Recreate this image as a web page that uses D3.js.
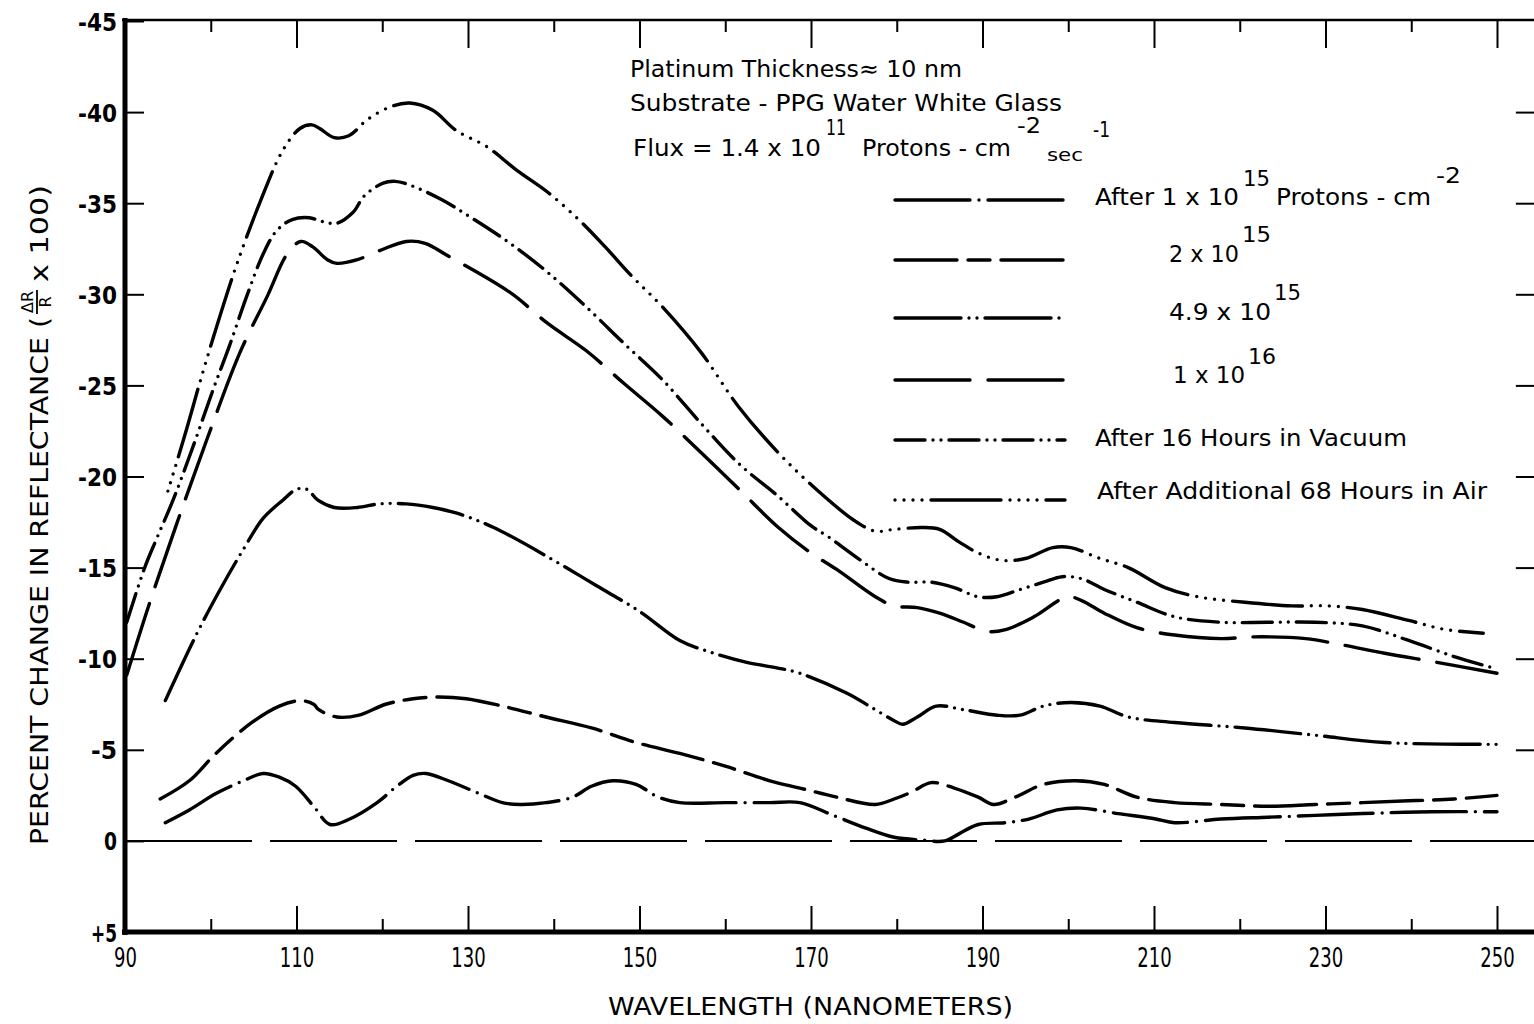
<!DOCTYPE html>
<html><head><meta charset="utf-8">
<script src="https://cdn.jsdelivr.net/npm/d3@7"></script>
<style>
body{margin:0;background:#fff;}
svg{display:block;background:#fff;}
</style></head>
<body>
<svg id="chart" width="1534" height="1024"></svg>
<script>
// ---------------- DATA ----------------
// After 1 x 10^15 protons (dash-dot)
const p1e15Nm  = [94.7,97.5,100.6,103.8,106.1,108.0,109.9,112.0,113.9,116.2,119.4,121.7,123.6,125.1,127.7,131.3,134.0,136.1,139.1,142.2,144.4,146.9,149.6,152.2,154.7,160.0,165.2,168.7,172.6,176.4,179.7,182.9,185.6,187.3,189.5,192.7,195.4,198.7,201.5,205.8,210.2,212.4,217.8,223.3,228.8,234.3,242.4,250];
const p1e15Val = [-1.0,-1.7,-2.6,-3.3,-3.7,-3.5,-3.0,-1.9,-0.9,-1.2,-2.1,-3.0,-3.6,-3.7,-3.3,-2.6,-2.1,-2.0,-2.1,-2.4,-3.0,-3.3,-3.1,-2.4,-2.1,-2.1,-2.1,-2.1,-1.4,-0.7,-0.2,-0.05,0,-0.4,-0.9,-1.0,-1.2,-1.7,-1.8,-1.5,-1.2,-1.0,-1.2,-1.3,-1.4,-1.5,-1.6,-1.6];
// 2 x 10^15 (long-short dash)
const p2e15Nm  = [94.1,97.5,100.6,104.8,108.0,110.5,112.0,112.6,114.7,117.3,120.4,123.6,126.6,129.8,134.0,139.1,144.4,149.6,154.7,160.0,165.2,168.7,173.0,177.5,179.7,181.8,184.0,186.7,189.5,191.3,193.8,197.1,200.9,204.2,208.0,212.4,217.8,223.3,228.8,234.3,239.7,245,250];
const p2e15Val = [-2.3,-3.3,-4.8,-6.5,-7.4,-7.7,-7.5,-7.2,-6.8,-6.9,-7.5,-7.8,-7.9,-7.8,-7.4,-6.8,-6.2,-5.4,-4.8,-4.1,-3.3,-2.9,-2.4,-2.0,-2.3,-2.7,-3.2,-2.9,-2.4,-2.0,-2.4,-3.1,-3.3,-3.1,-2.4,-2.1,-2.0,-1.9,-2.0,-2.1,-2.2,-2.3,-2.5];
// 4.9 x 10^15 (dash-dot-dot)
const p49e15Nm  = [94.7,98.4,101.1,103.8,106.1,108.4,110.0,111.2,112.5,114.4,117.1,119.7,122.8,125.9,128.6,133.0,140,145,150,154.7,158,162.5,166,168.7,174.2,177.5,179.7,180.7,182.4,184.6,187.8,191.7,194.4,197.1,200.3,203.7,207.0,212.4,220.6,228.8,236.9,250];
const p49e15Val = [-7.7,-11.4,-13.8,-16.0,-17.7,-18.7,-19.3,-19.3,-18.7,-18.3,-18.3,-18.5,-18.5,-18.3,-18.0,-17.2,-15.4,-14.0,-12.6,-11.0,-10.4,-9.8,-9.5,-9.2,-8.1,-7.2,-6.6,-6.4,-6.8,-7.4,-7.2,-6.9,-6.9,-7.4,-7.6,-7.4,-6.8,-6.5,-6.2,-5.8,-5.4,-5.3];
// 1 x 10^16 (long dash)
const p1e16Nm  = [90.2,92.9,96.1,99.6,103.4,106.6,108.9,110.5,111.9,113.6,114.7,117.1,119.7,122.8,125.0,127.7,134.9,139.3,143.8,148.2,152.7,157.2,161.6,166.2,170,173.0,177.5,179.7,182.4,185.0,187.8,190.5,192.7,196.0,199.9,201.5,204.2,208.0,212.4,217.8,221.7,227.7,231.5,236.9,243.0,250];
const p1e16Val = [-9.1,-13.1,-17.5,-22.1,-26.8,-29.9,-32.2,-32.9,-32.6,-31.9,-31.7,-31.9,-32.4,-32.9,-32.8,-32.1,-30.1,-28.4,-26.9,-25.1,-23.3,-21.3,-19.3,-17.2,-15.8,-14.9,-13.4,-12.9,-12.8,-12.5,-12.0,-11.5,-11.6,-12.3,-13.4,-13.2,-12.5,-11.7,-11.3,-11.1,-11.2,-11.1,-10.8,-10.3,-9.8,-9.2];
// After 16 hours in vacuum
const vacNm  = [90.2,92.3,93.7,95.6,97.9,100.3,102.2,104.2,106.1,107.7,109.5,111.5,113,114.7,116.6,117.9,120.1,121.5,123.2,126.9,130.4,134.9,139.3,143.8,148.2,152.7,157.2,161.6,166.2,170,172.0,175.8,179.1,181.3,184.0,186.7,189.5,191.7,194.4,197.1,199.3,201.5,204.2,208.0,212.4,217.8,223.3,228.8,234.3,239.7,245.1,249.5];
const vacVal = [-12.0,-15.0,-16.6,-18.7,-21.6,-24.8,-27.2,-29.9,-32.2,-33.5,-34.1,-34.2,-34.0,-33.9,-34.5,-35.4,-36.1,-36.2,-36.0,-35.2,-34.2,-32.8,-31.2,-29.3,-27.3,-25.3,-22.9,-20.7,-18.9,-17.3,-16.7,-15.4,-14.4,-14.2,-14.2,-13.9,-13.4,-13.4,-13.8,-14.2,-14.5,-14.4,-13.8,-13.1,-12.3,-12.0,-12.0,-12.0,-11.8,-11.0,-10.1,-9.5];
// After additional 68 hours in air
const airNm  = [95,97,99.0,101,103.0,105.7,108.4,110.4,111.8,112.7,114.4,116.1,118.3,121.0,123.2,125.9,128.6,132.2,135.7,139.3,142.9,146.0,149.1,152.7,157.2,161.6,166.2,170.6,175.0,177.5,179.7,182.9,185.0,187.3,189.5,192.2,195.0,198.2,200.3,203.7,207.0,211.3,215.1,220.6,226.1,230.4,234.3,239.7,244.0,248.4];
const airVal = [-19.2,-22.3,-25.6,-28.7,-31.6,-35.0,-37.9,-39.1,-39.3,-39.1,-38.6,-38.7,-39.6,-40.3,-40.5,-40.1,-39.0,-38.1,-36.8,-35.6,-34.1,-32.6,-31.0,-29.3,-26.8,-23.8,-21.3,-19.3,-17.6,-17.0,-17.1,-17.2,-17.1,-16.4,-15.8,-15.4,-15.5,-16.1,-16.1,-15.5,-15.0,-13.9,-13.4,-13.1,-12.9,-12.9,-12.7,-12.1,-11.6,-11.4];

const baselineNm  = [90, 255];
const baselineVal = [0, 0];

const yTickVals   = [-45,-40,-35,-30,-25,-20,-15,-10,-5,0,5];
const xMajorTicks = [90,110,130,150,170,190,210,230,250];
const xMinorTicks = [100,120,140,160,180,200,220,240];
const rightTicks  = [-40,-35,-30,-25,-20,-15,-10,-5];

// ---------------- SETUP ----------------
const svg = d3.select('#chart');
const FONT = "'DejaVu Sans', sans-serif";
const x = d3.scaleLinear().domain([90, 250]).range([125, 1497]);
const y = d3.scaleLinear().domain([-45, 5]).range([21, 932]);
const X_END = x(255);

// frame
svg.append('line').attr('x1', 122).attr('x2', X_END).attr('y1', 20).attr('y2', 20)
  .attr('stroke', '#000').attr('stroke-width', 2.5);
svg.append('line').attr('x1', 125).attr('x2', 125).attr('y1', 18).attr('y2', 935)
  .attr('stroke', '#000').attr('stroke-width', 5);
svg.append('line').attr('x1', 122).attr('x2', X_END).attr('y1', 932).attr('y2', 932)
  .attr('stroke', '#000').attr('stroke-width', 5);

function styleAxis(g) {
  g.select('.domain').remove();
  g.selectAll('.tick line').attr('stroke', '#000').attr('stroke-width', 2);
}

// left axis
const gl = svg.append('g').attr('transform', `translate(${x(90)},0)`)
  .call(d3.axisLeft(y).tickValues(yTickVals).tickSize(-19).tickPadding(8)
    .tickFormat(d => d > 0 ? '+' + d : String(d)));
styleAxis(gl);
gl.selectAll('text').attr('font-family', FONT).attr('font-size', 25).attr('font-weight', 'bold')
  .attr('fill', '#000').attr('dy', '0.36em')
  .attr('textLength', function(d){ const s = d > 0 ? '+' + d : String(d); return s.length * 13; })
  .attr('lengthAdjust', 'spacingAndGlyphs');

// bottom axis major + minor
const gb = svg.append('g').attr('transform', `translate(0,${y(5)})`)
  .call(d3.axisBottom(x).tickValues(xMajorTicks).tickSize(-26).tickPadding(16).tickFormat(d => String(d)));
styleAxis(gb);
gb.selectAll('text').attr('font-family', FONT).attr('font-size', 27).attr('fill', '#000')
  .attr('textLength', d => String(d).length * 11.5).attr('lengthAdjust', 'spacingAndGlyphs');
const gbm = svg.append('g').attr('transform', `translate(0,${y(5)})`)
  .call(d3.axisBottom(x).tickValues(xMinorTicks).tickSize(-13).tickFormat(''));
styleAxis(gbm);

// top axis
const gt = svg.append('g').attr('transform', 'translate(0,20)')
  .call(d3.axisTop(x).tickValues(xMajorTicks.slice(1)).tickSize(-28).tickFormat(''));
styleAxis(gt);
const gtm = svg.append('g').attr('transform', 'translate(0,20)')
  .call(d3.axisTop(x).tickValues(xMinorTicks).tickSize(-12).tickFormat(''));
styleAxis(gtm);

// right axis (axis line itself lies just outside the picture)
const gr = svg.append('g').attr('transform', `translate(${X_END},0)`)
  .call(d3.axisRight(y).tickValues(rightTicks).tickSize(-24).tickFormat(''));
styleAxis(gr);

// ---------------- SERIES ----------------
const series = [
  {nm: p1e15Nm,  val: p1e15Val,  dash: '75 9 0 9'},
  {nm: p2e15Nm,  val: p2e15Val,  dash: '62 11 22 11'},
  {nm: p49e15Nm, val: p49e15Val, dash: '66 8 0 8 0 8'},
  {nm: p1e16Nm,  val: p1e16Val,  dash: '75 18'},
  {nm: vacNm,    val: vacVal,    dash: '30 8 0 8 0 8'},
  {nm: airNm,    val: airVal,    dash: '0 9 0 9 0 9 0 9 70 9'}
];
const line = d3.line().x(d => x(d[0])).y(d => y(d[1])).curve(d3.curveCatmullRom.alpha(0.5));

// zero baseline (long dashes)
svg.append('path')
  .attr('d', d3.line().x(d => x(d[0])).y(d => y(d[1]))(baselineNm.map((n, i) => [n, baselineVal[i]])))
  .attr('fill', 'none').attr('stroke', '#000').attr('stroke-width', 2)
  .attr('stroke-dasharray', '127 18');

series.forEach(s => {
  const pts = s.nm.map((n, i) => [n, s.val[i]]);
  svg.append('path').attr('d', line(pts))
    .attr('fill', 'none').attr('stroke', '#000').attr('stroke-width', 3.4)
    .attr('stroke-linecap', 'round').attr('stroke-linejoin', 'round')
    .attr('stroke-dasharray', s.dash);
});

// ---------------- TEXT ----------------
function piece(t, px, py, len, size) {
  const el = svg.append('text').attr('x', px).attr('y', py).text(t)
    .attr('font-family', FONT).attr('font-size', size || 23).attr('fill', '#000');
  if (len) el.attr('textLength', len).attr('lengthAdjust', 'spacingAndGlyphs');
  return el;
}

piece('Platinum Thickness\u2248 10 nm', 630, 77, 332);
piece('Substrate - PPG Water White Glass', 630, 111, 432);
piece('Flux = 1.4 x 10', 633, 156, 188);
piece('11', 826, 135, 20, 22);
piece('Protons - cm', 862, 156, 149);
piece('-2', 1017, 133, 24, 21);
piece('sec', 1047, 161, 36, 18);
piece('-1', 1093, 137, 17, 21);

// legend
const legendY = [200, 260, 318, 380, 440, 500];
series.forEach((s, i) => {
  svg.append('line').attr('x1', 895).attr('x2', 1065).attr('y1', legendY[i]).attr('y2', legendY[i])
    .attr('stroke', '#000').attr('stroke-width', 3.4).attr('stroke-linecap', 'round')
    .attr('stroke-dasharray', s.dash);
});
piece('After 1 x 10', 1095, 205, 144);
piece('15', 1243, 186, 27, 22);
piece('Protons - cm', 1276, 205, 155);
piece('-2', 1436, 183, 25, 22);

piece('2 x 10', 1169, 262, 70);
piece('15', 1242, 242, 29, 22);

piece('4.9 x 10', 1169, 320, 102);
piece('15', 1274, 300, 27, 22);

piece('1 x 10', 1173, 383, 72);
piece('16', 1248, 364, 28, 22);

piece('After 16 Hours in Vacuum', 1095, 446, 312);
piece('After Additional 68 Hours in Air', 1097, 499, 390);

// x axis title
piece('WAVELENGTH (NANOMETERS)', 608, 1015, 405, 25);

// y axis title (rotated)
const gy = svg.append('g').attr('transform', 'translate(48,845) rotate(-90)');
gy.append('text').attr('x', 0).attr('y', 0).text('PERCENT CHANGE IN REFLECTANCE (')
  .attr('font-family', FONT).attr('font-size', 25).attr('fill', '#000')
  .attr('textLength', 528).attr('lengthAdjust', 'spacingAndGlyphs');
gy.append('text').attr('x', 543).attr('y', -15).attr('text-anchor', 'middle').text('\u0394R')
  .attr('font-family', FONT).attr('font-size', 16).attr('fill', '#000');
gy.append('line').attr('x1', 531).attr('x2', 555).attr('y1', -11).attr('y2', -11)
  .attr('stroke', '#000').attr('stroke-width', 1.8);
gy.append('text').attr('x', 543).attr('y', 3).attr('text-anchor', 'middle').text('R')
  .attr('font-family', FONT).attr('font-size', 16).attr('fill', '#000');
gy.append('text').attr('x', 563).attr('y', 0).text('x 100)')
  .attr('font-family', FONT).attr('font-size', 25).attr('fill', '#000')
  .attr('textLength', 97).attr('lengthAdjust', 'spacingAndGlyphs');
</script>
</body></html>
